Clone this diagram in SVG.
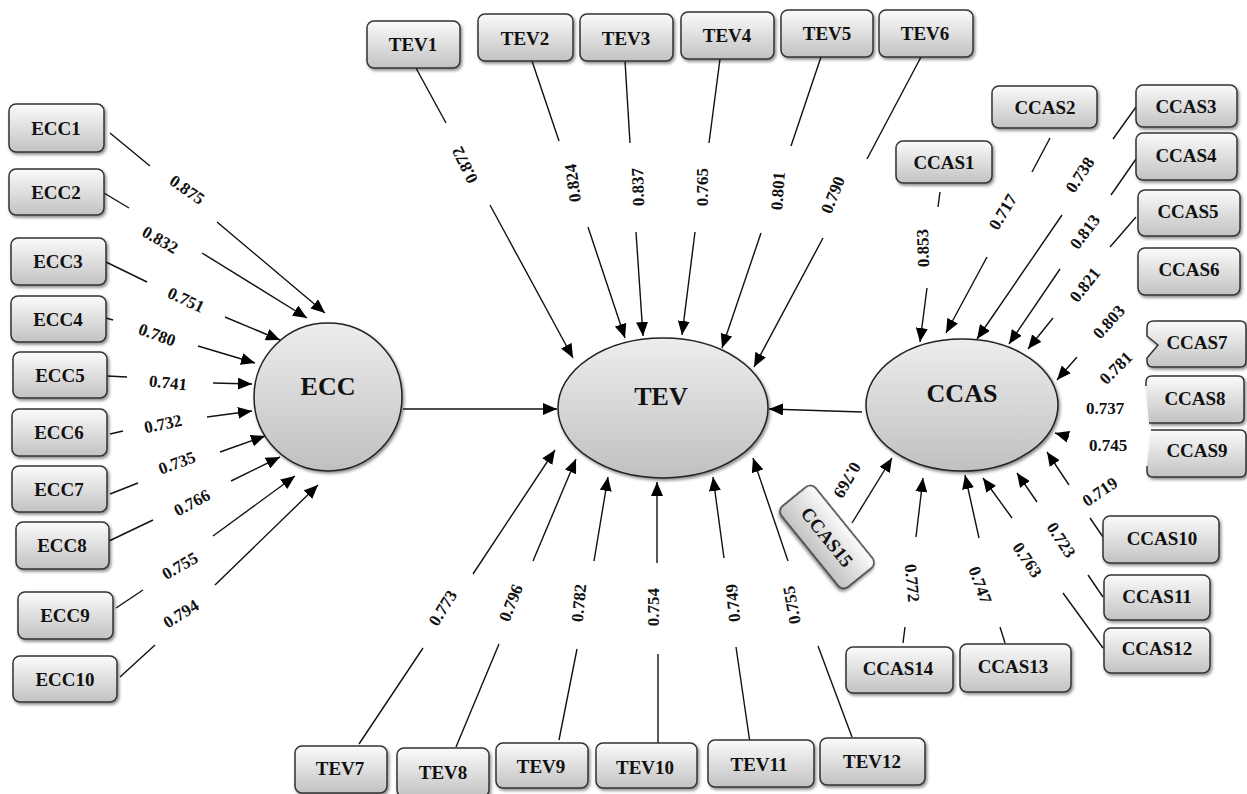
<svg xmlns="http://www.w3.org/2000/svg" width="1247" height="794" viewBox="0 0 1247 794">
<defs>
<linearGradient id="gb" x1="0" y1="0" x2="0" y2="1"><stop offset="0" stop-color="#fbfbfb"/><stop offset="1" stop-color="#c2c2c2"/></linearGradient>
<linearGradient id="ge" x1="0" y1="0" x2="0" y2="1"><stop offset="0" stop-color="#ededed"/><stop offset="1" stop-color="#c0c0c0"/></linearGradient>
<filter id="sh" x="-20%" y="-20%" width="140%" height="150%"><feDropShadow dx="1.5" dy="2" stdDeviation="1.5" flood-color="#000" flood-opacity="0.45"/></filter>
<marker id="ah" markerUnits="userSpaceOnUse" viewBox="0 0 14 12" markerWidth="14" markerHeight="12" refX="14" refY="6" orient="auto"><path d="M0,0 L14,6 L0,12 z" fill="#000"/></marker>
<style>
.box{fill:url(#gb);stroke:#333;stroke-width:1.5;filter:url(#sh)}
.ell{fill:url(#ge);stroke:#222;stroke-width:1.5;filter:url(#sh)}
.bt{font-family:"Liberation Serif",serif;font-weight:bold;font-size:19px;text-anchor:middle;dominant-baseline:central;fill:#111}
.lv{font-family:"Liberation Serif",serif;font-weight:bold;font-size:26px;text-anchor:middle;dominant-baseline:central;fill:#111}
.num{font-family:"Liberation Serif",serif;font-weight:bold;font-size:17px;text-anchor:middle;dominant-baseline:central;fill:#111}
.ln{stroke:#111;stroke-width:1.4;fill:none}
.ar{marker-end:url(#ah)}
</style>
</defs>
<rect width="1247" height="794" fill="#fff"/>

<g id="connectors">
<!-- ECC indicators -->
<line class="ln" x1="110" y1="133" x2="150" y2="166"/><line class="ln ar" x1="217" y1="222" x2="325" y2="313"/>
<line class="ln" x1="104" y1="193" x2="129" y2="208"/><line class="ln ar" x1="202" y1="253" x2="307" y2="318"/>
<line class="ln" x1="106" y1="262" x2="147" y2="282"/><line class="ln ar" x1="225" y1="317" x2="280" y2="340"/>
<line class="ln" x1="106" y1="318" x2="113" y2="320"/><line class="ln ar" x1="198" y1="346" x2="255" y2="363"/>
<line class="ln" x1="107" y1="376" x2="127" y2="377"/><line class="ln ar" x1="213" y1="383" x2="252" y2="384"/>
<line class="ln" x1="110" y1="434" x2="123" y2="431"/><line class="ln ar" x1="207" y1="417" x2="252" y2="411"/>
<line class="ln" x1="110" y1="494" x2="138" y2="483"/><line class="ln ar" x1="220" y1="452" x2="265" y2="436"/>
<line class="ln" x1="109" y1="541" x2="153" y2="520"/><line class="ln ar" x1="231" y1="481" x2="280" y2="457"/>
<line class="ln" x1="116" y1="608" x2="143" y2="590"/><line class="ln ar" x1="213" y1="536" x2="295" y2="476"/>
<line class="ln" x1="120" y1="677" x2="155" y2="645"/><line class="ln ar" x1="215" y1="585" x2="318" y2="485"/>
<!-- structural -->
<line class="ln ar" x1="403" y1="409" x2="557" y2="409"/>
<line class="ln ar" x1="862" y1="412" x2="769" y2="409"/>
<!-- TEV top -->
<line class="ln" x1="416" y1="68" x2="446" y2="123"/><line class="ln ar" x1="490" y1="205" x2="573" y2="358"/>
<line class="ln" x1="532" y1="61" x2="559" y2="141"/><line class="ln ar" x1="588" y1="227" x2="625" y2="338"/>
<line class="ln" x1="625" y1="61" x2="630" y2="143"/><line class="ln ar" x1="636" y1="232" x2="643" y2="336"/>
<line class="ln" x1="720" y1="59" x2="709" y2="143"/><line class="ln ar" x1="695" y1="232" x2="682" y2="335"/>
<line class="ln" x1="821" y1="57" x2="791" y2="146"/><line class="ln ar" x1="761" y1="233" x2="722" y2="348"/>
<line class="ln" x1="921" y1="57" x2="867" y2="159"/><line class="ln ar" x1="823" y1="238" x2="754" y2="367"/>
<!-- TEV bottom -->
<line class="ln" x1="359" y1="744" x2="423" y2="648"/><line class="ln ar" x1="473" y1="574" x2="555" y2="450"/>
<line class="ln" x1="456" y1="747" x2="499" y2="644"/><line class="ln ar" x1="533" y1="561" x2="576" y2="459"/>
<line class="ln" x1="559" y1="740" x2="577" y2="649"/><line class="ln ar" x1="594" y1="561" x2="608" y2="477"/>
<line class="ln" x1="658" y1="743" x2="658" y2="654"/><line class="ln ar" x1="657" y1="563" x2="657" y2="482"/>
<line class="ln" x1="750" y1="743" x2="736" y2="647"/><line class="ln ar" x1="724" y1="558" x2="713" y2="477"/>
<line class="ln" x1="852" y1="737" x2="818" y2="646"/><line class="ln ar" x1="788" y1="561" x2="753" y2="458"/>
<!-- CCAS indicators -->
<line class="ln" x1="940" y1="192" x2="938" y2="207"/><line class="ln ar" x1="927" y1="288" x2="920" y2="342"/>
<line class="ln" x1="1050" y1="138" x2="1032" y2="172"/><line class="ln ar" x1="987" y1="257" x2="946" y2="333"/>
<line class="ln" x1="1136" y1="107" x2="1113" y2="139"/><line class="ln ar" x1="1062" y1="215" x2="977" y2="339"/>
<line class="ln" x1="1136" y1="159" x2="1111" y2="195"/><line class="ln ar" x1="1060" y1="269" x2="1009" y2="344"/>
<line class="ln" x1="1136" y1="217" x2="1110" y2="247"/><line class="ln ar" x1="1053" y1="318" x2="1028" y2="349"/>
<line class="ln ar" x1="1077" y1="357" x2="1057" y2="380"/>
<line class="ln ar" x1="1069" y1="437" x2="1055" y2="433"/>
<line class="ln" x1="1103" y1="537" x2="1090" y2="518"/><line class="ln ar" x1="1069" y1="485" x2="1047" y2="452"/>
<line class="ln" x1="1103" y1="597" x2="1088" y2="575"/><line class="ln ar" x1="1037" y1="502" x2="1017" y2="473"/>
<line class="ln" x1="1103" y1="648" x2="1063" y2="593"/><line class="ln ar" x1="1012" y1="518" x2="983" y2="478"/>
<line class="ln" x1="1005" y1="643" x2="1000" y2="627"/><line class="ln ar" x1="979" y1="538" x2="965" y2="475"/>
<line class="ln" x1="903" y1="643" x2="905" y2="627"/><line class="ln ar" x1="916" y1="537" x2="923" y2="478"/>
<line class="ln ar" x1="852" y1="523" x2="892" y2="458"/>

<!-- loading labels -->
<text class="num" transform="translate(187,190) rotate(35)">0.875</text>
<text class="num" transform="translate(160,240) rotate(30)">0.832</text>
<text class="num" transform="translate(186,300) rotate(25)">0.751</text>
<text class="num" transform="translate(157,335) rotate(20)">0.780</text>
<text class="num" transform="translate(168,383) rotate(6)">0.741</text>
<text class="num" transform="translate(163,424) rotate(-12)">0.732</text>
<text class="num" transform="translate(177,463) rotate(-20)">0.735</text>
<text class="num" transform="translate(192,503) rotate(-28)">0.766</text>
<text class="num" transform="translate(180,566) rotate(-30)">0.755</text>
<text class="num" transform="translate(181,614) rotate(-32)">0.794</text>

<text class="num" transform="translate(465,165) rotate(-116)">0.872</text>
<text class="num" transform="translate(573,183) rotate(-98)">0.824</text>
<text class="num" transform="translate(638,187) rotate(-92)">0.837</text>
<text class="num" transform="translate(702,187) rotate(-90)">0.765</text>
<text class="num" transform="translate(778,191) rotate(-86)">0.801</text>
<text class="num" transform="translate(833,195) rotate(-68)">0.790</text>

<text class="num" transform="translate(443,608) rotate(-58)">0.773</text>
<text class="num" transform="translate(511,603) rotate(-68)">0.796</text>
<text class="num" transform="translate(579,603) rotate(-85)">0.782</text>
<text class="num" transform="translate(653,607) rotate(-90)">0.754</text>
<text class="num" transform="translate(733,603) rotate(-95)">0.749</text>
<text class="num" transform="translate(792,605) rotate(-100)">0.755</text>

<text class="num" transform="translate(923,248) rotate(-92)">0.853</text>
<text class="num" transform="translate(1003,212) rotate(-59)">0.717</text>
<text class="num" transform="translate(1080,175) rotate(-57)">0.738</text>
<text class="num" transform="translate(1085,232) rotate(-53)">0.813</text>
<text class="num" transform="translate(1085,285) rotate(-52)">0.821</text>
<text class="num" transform="translate(1109,322) rotate(-48)">0.803</text>
<text class="num" transform="translate(1116,368) rotate(-45)">0.781</text>
<text class="num" transform="translate(1105,408)">0.737</text>
<text class="num" transform="translate(1108,445)">0.745</text>
<text class="num" transform="translate(1100,492) rotate(-34)">0.719</text>
<text class="num" transform="translate(1061,540) rotate(57)">0.723</text>
<text class="num" transform="translate(1027,560) rotate(56)">0.763</text>
<text class="num" transform="translate(980,585) rotate(70)">0.747</text>
<text class="num" transform="translate(912,583) rotate(85)">0.772</text>
<text class="num" transform="translate(847,480) rotate(120)">0.769</text>
</g>

<!-- latent variables -->
<g id="ECC"><ellipse class="ell" cx="328" cy="397" rx="74" ry="74"/><text class="lv" x="328" y="386">ECC</text></g>
<g id="TEV"><ellipse class="ell" cx="663" cy="408" rx="105" ry="70"/><text class="lv" x="661" y="396">TEV</text></g>
<g id="CCAS"><ellipse class="ell" cx="962" cy="405" rx="96" ry="66"/><text class="lv" x="962" y="393">CCAS</text></g>

<!-- ECC indicators -->
<g id="ECC1"><rect class="box" x="9" y="104" width="95" height="48" rx="7"/><text class="bt" x="56" y="128">ECC1</text></g>
<g id="ECC2"><rect class="box" x="9" y="169" width="95" height="46" rx="7"/><text class="bt" x="56" y="192">ECC2</text></g>
<g id="ECC3"><rect class="box" x="11" y="238" width="95" height="47" rx="7"/><text class="bt" x="58" y="261">ECC3</text></g>
<g id="ECC4"><rect class="box" x="11" y="296" width="95" height="46" rx="7"/><text class="bt" x="58" y="319">ECC4</text></g>
<g id="ECC5"><rect class="box" x="13" y="352" width="94" height="46" rx="7"/><text class="bt" x="60" y="375">ECC5</text></g>
<g id="ECC6"><rect class="box" x="12" y="409" width="95" height="47" rx="7"/><text class="bt" x="59" y="432">ECC6</text></g>
<g id="ECC7"><rect class="box" x="12" y="466" width="95" height="46" rx="7"/><text class="bt" x="59" y="489">ECC7</text></g>
<g id="ECC8"><rect class="box" x="16" y="522" width="93" height="47" rx="7"/><text class="bt" x="62" y="545">ECC8</text></g>
<g id="ECC9"><rect class="box" x="18" y="592" width="95" height="47" rx="7"/><text class="bt" x="65" y="615">ECC9</text></g>
<g id="ECC10"><rect class="box" x="13" y="656" width="104" height="46" rx="7"/><text class="bt" x="65" y="679">ECC10</text></g>

<!-- TEV indicators -->
<g id="TEV1"><rect class="box" x="367" y="21" width="93" height="47" rx="7"/><text class="bt" x="413" y="44">TEV1</text></g>
<g id="TEV2"><rect class="box" x="478" y="14" width="95" height="47" rx="7"/><text class="bt" x="525" y="38">TEV2</text></g>
<g id="TEV3"><rect class="box" x="580" y="14" width="93" height="47" rx="7"/><text class="bt" x="626" y="38">TEV3</text></g>
<g id="TEV4"><rect class="box" x="681" y="12" width="93" height="47" rx="7"/><text class="bt" x="727" y="35">TEV4</text></g>
<g id="TEV5"><rect class="box" x="781" y="10" width="92" height="47" rx="7"/><text class="bt" x="827" y="33">TEV5</text></g>
<g id="TEV6"><rect class="box" x="879" y="10" width="94" height="47" rx="7"/><text class="bt" x="925" y="33">TEV6</text></g>
<g id="TEV7"><rect class="box" x="295" y="746" width="92" height="47" rx="7"/><text class="bt" x="340" y="768">TEV7</text></g>
<g id="TEV8"><rect class="box" x="397" y="748" width="92" height="49" rx="7"/><text class="bt" x="443" y="772">TEV8</text></g>
<g id="TEV9"><rect class="box" x="496" y="743" width="92" height="45" rx="7"/><text class="bt" x="541" y="766">TEV9</text></g>
<g id="TEV10"><rect class="box" x="596" y="743" width="101" height="45" rx="7"/><text class="bt" x="645" y="767">TEV10</text></g>
<g id="TEV11"><rect class="box" x="708" y="740" width="106" height="47" rx="7"/><text class="bt" x="759" y="764">TEV11</text></g>
<g id="TEV12"><rect class="box" x="820" y="738" width="105" height="47" rx="7"/><text class="bt" x="872" y="761">TEV12</text></g>

<!-- CCAS indicators -->
<g id="CCAS1"><rect class="box" x="896" y="141" width="96" height="42" rx="7"/><text class="bt" x="944" y="162">CCAS1</text></g>
<g id="CCAS2"><rect class="box" x="992" y="86" width="105" height="42" rx="7"/><text class="bt" x="1045" y="107">CCAS2</text></g>
<g id="CCAS3"><rect class="box" x="1136" y="85" width="101" height="42" rx="7"/><text class="bt" x="1186" y="106">CCAS3</text></g>
<g id="CCAS4"><rect class="box" x="1136" y="133" width="101" height="47" rx="7"/><text class="bt" x="1186" y="155">CCAS4</text></g>
<g id="CCAS5"><rect class="box" x="1138" y="190" width="102" height="46" rx="7"/><text class="bt" x="1188" y="211">CCAS5</text></g>
<g id="CCAS6"><rect class="box" x="1138" y="248" width="102" height="47" rx="7"/><text class="bt" x="1189" y="269">CCAS6</text></g>
<g id="CCAS7"><path class="box" d="M1154,321 H1240 Q1246,321 1246,327 V361 Q1246,367 1240,367 H1153 Q1147,367 1147,361 V358 L1158,345 L1147,336 V327 Q1147,321 1154,321 Z"/><text class="bt" x="1197" y="342">CCAS7</text></g>
<g id="CCAS8"><path class="box" d="M1146,386 V382 Q1146,376 1152,376 H1238 Q1244,376 1244,382 V417 Q1244,423 1238,423 H1149"/><text class="bt" x="1195" y="398">CCAS8</text></g>
<g id="CCAS9"><path class="box" d="M1151,430 H1240 Q1246,430 1246,436 V471 Q1246,477 1240,477 H1153 Q1147,477 1147,471 V466"/><text class="bt" x="1197" y="450">CCAS9</text></g>
<g id="CCAS10"><rect class="box" x="1103" y="516" width="116" height="47" rx="7"/><text class="bt" x="1162" y="538">CCAS10</text></g>
<g id="CCAS11"><rect class="box" x="1104" y="575" width="106" height="45" rx="7"/><text class="bt" x="1157" y="596">CCAS11</text></g>
<g id="CCAS12"><rect class="box" x="1104" y="628" width="106" height="45" rx="7"/><text class="bt" x="1157" y="648">CCAS12</text></g>
<g id="CCAS13"><rect class="box" x="960" y="644" width="111" height="48" rx="7"/><text class="bt" x="1013" y="666">CCAS13</text></g>
<g id="CCAS14"><rect class="box" x="846" y="647" width="107" height="46" rx="7"/><text class="bt" x="898" y="668">CCAS14</text></g>
<g id="CCAS15" transform="translate(827,537) rotate(51)"><rect class="box" x="-52" y="-22" width="104" height="44" rx="7"/><text class="bt" x="0" y="0">CCAS15</text></g>
</svg>
